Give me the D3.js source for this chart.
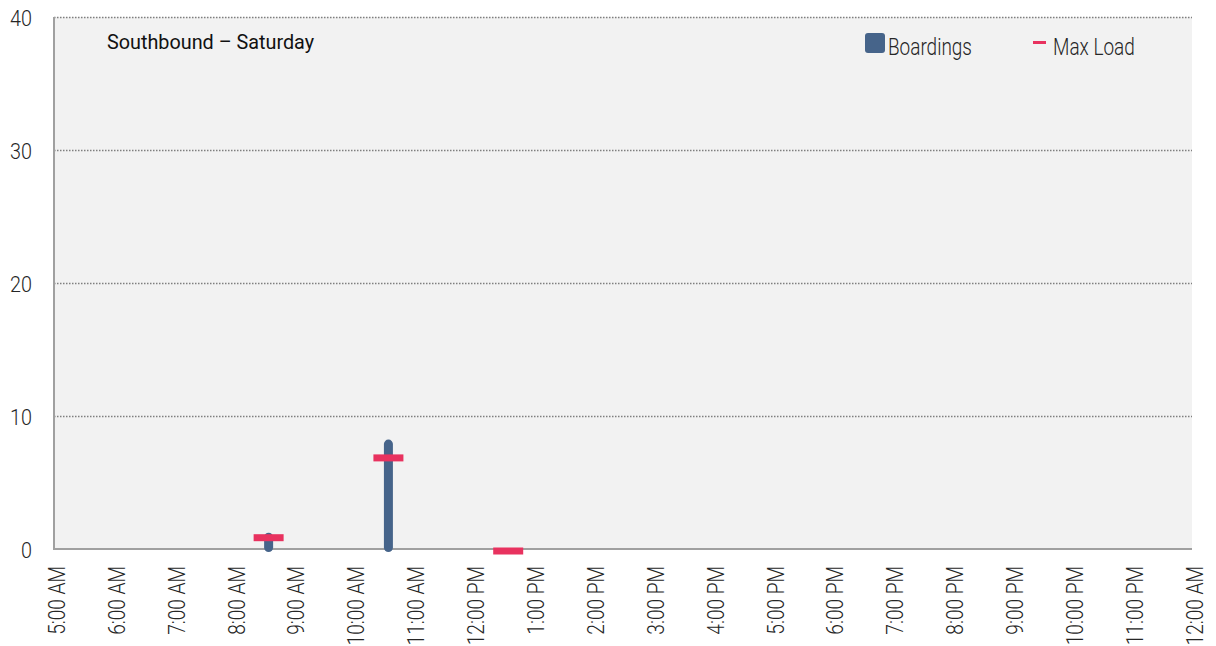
<!DOCTYPE html>
<html>
<head>
<meta charset="utf-8">
<script src="https://cdn.jsdelivr.net/npm/d3@7"></script>
<style>
	body { margin: 0; background: #fff; }
	svg { display: block; font-family: Roboto, "Open Sans", sans-serif; }
	.grid line { stroke: #7f7f7f; stroke-width: 1.5; stroke-dasharray: 1.5,1.5; }
	.grid path { display: none; }
	.axis-line { stroke: #a0a0a0; stroke-width: 2; }
	.label { fill: #262626; font-weight: 300; }
</style>
</head>
<body>
<div id="chart"><svg></svg></div>
<script>
// tick labels
var hourLabels = ["5:00 AM", "6:00 AM", "7:00 AM", "8:00 AM", "9:00 AM", "10:00 AM", "11:00 AM",
	"12:00 PM", "1:00 PM", "2:00 PM", "3:00 PM", "4:00 PM", "5:00 PM", "6:00 PM", "7:00 PM",
	"8:00 PM", "9:00 PM", "10:00 PM", "11:00 PM", "12:00 AM"];
var yTicks = [0, 10, 20, 30, 40];

// trips
var tripTimes = ["8:35 AM", "10:35 AM", "12:35 PM"];
var boardings = [1, 8, 0];
var maxLoad = [1, 7, 0];

var seriesNames = ["Boardings", "Max Load"];
var title = "Southbound  \u2013 Saturday";

function TripChart(selector) {
	var self = this;
	self.selector = selector;
	self.width = 1216;
	self.height = 646;
	self.margin = { top: 17, right: 24, bottom: 97, left: 54 };
	self.svg = d3.select(self.selector + " svg");
	self.parse = d3.timeParse("%I:%M %p");
}

TripChart.prototype.toTime = function(label) {
	var self = this;
	var t = self.parse(label);
	var start = self.parse(hourLabels[0]);
	if (t < start) t = d3.timeDay.offset(t, 1);
	return t;
};

TripChart.prototype.draw = function() {
	var self = this;
	self.svg.attr("width", self.width).attr("height", self.height);
	self.setScales();
	self.drawBackground();
	self.drawAxes();
	self.drawBars();
	self.drawLegend();
};

TripChart.prototype.setScales = function() {
	var self = this;
	var m = self.margin;
	self.hours = hourLabels.map(function(h) { return self.toTime(h); });
	self.x = d3.scaleTime()
		.domain([self.hours[0], self.hours[self.hours.length - 1]])
		.range([m.left, self.width - m.right]);
	self.y = d3.scaleLinear()
		.domain([0, 40])
		.range([self.height - m.bottom, m.top]);
};

TripChart.prototype.drawBackground = function() {
	var self = this;
	self.svg.append("rect")
		.attr("x", self.x.range()[0])
		.attr("y", self.y(40))
		.attr("width", self.x.range()[1] - self.x.range()[0])
		.attr("height", self.y(0) - self.y(40))
		.attr("fill", "#f2f2f2");
};

TripChart.prototype.drawAxes = function() {
	var self = this;
	var left = self.x.range()[0], right = self.x.range()[1];

	self.svg.append("g")
		.attr("class", "grid")
		.attr("transform", "translate(" + left + ",0)")
		.call(d3.axisLeft(self.y).tickValues(yTicks.slice(1)).tickSize(-(right - left)).tickFormat(""));

	// y labels
	self.svg.selectAll("text.ylab")
		.data(yTicks)
		.enter().append("text")
		.attr("class", "label ylab")
		.attr("text-anchor", "end")
		.attr("dominant-baseline", "central")
		.attr("font-size", 22)
		.attr("transform", function(d) {
			return "translate(32," + (self.y(d) + 2) + ") scale(0.9,1)";
		})
		.text(function(d) { return d; });

	self.svg.append("line")
		.attr("class", "axis-line")
		.attr("x1", left).attr("x2", left)
		.attr("y1", self.y(40)).attr("y2", self.y(0));
	self.svg.append("line")
		.attr("class", "axis-line")
		.attr("x1", left - 1).attr("x2", right)
		.attr("y1", self.y(0)).attr("y2", self.y(0));

	// x labels, rotated
	self.svg.selectAll("text.xlab")
		.data(self.hours)
		.enter().append("text")
		.attr("class", "label xlab")
		.attr("text-anchor", "end")
		.attr("dominant-baseline", "central")
		.attr("font-size", 23)
		.attr("transform", function(d) {
			return "translate(" + (self.x(d) + 2.7) + ",566) rotate(-90) scale(0.83,1)";
		})
		.text(function(d, i) { return hourLabels[i]; });
};

TripChart.prototype.drawBars = function() {
	var self = this;
	var data = tripTimes.map(function(t, i) {
		return { time: self.toTime(t), boardings: boardings[i], maxLoad: maxLoad[i] };
	});

	self.svg.selectAll("rect.bar")
		.data(data.filter(function(d) { return d.boardings > 0; }))
		.enter().append("rect")
		.attr("class", "bar")
		.attr("x", function(d) { return self.x(d.time) - 4.5; })
		.attr("y", function(d) { return self.y(d.boardings) - 3; })
		.attr("width", 9)
		.attr("height", function(d) { return self.y(0) - self.y(d.boardings) + 6; })
		.attr("rx", 4.5)
		.attr("fill", "#46648a");

	self.svg.selectAll("rect.maxload")
		.data(data)
		.enter().append("rect")
		.attr("class", "maxload")
		.attr("x", function(d) { return self.x(d.time) - 15; })
		.attr("y", function(d) { return self.y(d.maxLoad) - 1.5; })
		.attr("width", 30)
		.attr("height", 7)
		.attr("fill", "#e8325f");
};

TripChart.prototype.drawLegend = function() {
	var self = this;
	self.svg.append("text")
		.attr("transform", "translate(107,49) scale(0.99,1)")
		.attr("font-size", 20)
		.attr("fill", "#111")
		.text(title);

	self.svg.append("rect")
		.attr("x", 865).attr("y", 33)
		.attr("width", 20).attr("height", 20)
		.attr("rx", 3)
		.attr("fill", "#46648a");
	self.svg.append("rect")
		.attr("x", 1033).attr("y", 41)
		.attr("width", 13).attr("height", 3)
		.attr("fill", "#e8325f");

	self.svg.selectAll("text.legend")
		.data(seriesNames)
		.enter().append("text")
		.attr("class", "label legend")
		.attr("font-size", 24)
		.attr("transform", function(d, i) {
			return "translate(" + (i === 0 ? 888 : 1053) + ",55) scale(0.79,1)";
		})
		.text(function(d) { return d; });
};

var chart = new TripChart("#chart");
chart.draw();
</script>
</body>
</html>
